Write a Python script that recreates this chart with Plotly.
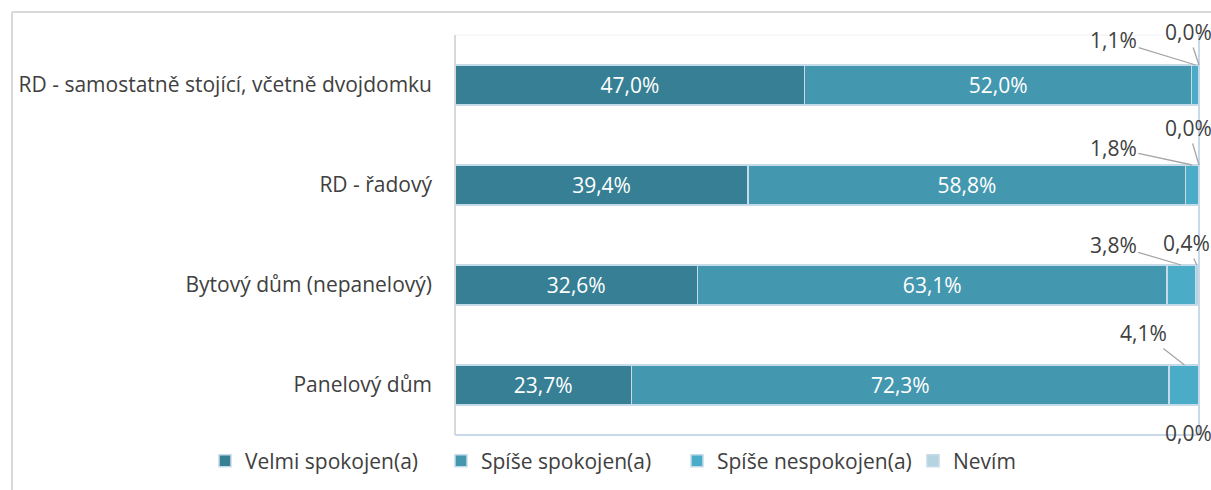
import plotly.graph_objects as go

categories = ["RD - samostatně stojící, včetně dvojdomku", "RD - řadový",
              "Bytový dům (nepanelový)", "Panelový dům"]
series_names = ["Velmi spokojen(a)", "Spíše spokojen(a)", "Spíše nespokojen(a)", "Nevím"]
velmi = [47.0, 39.4, 32.6, 23.7]
spise_spok = [52.0, 58.8, 63.1, 72.3]
spise_nespok = [1.1, 1.8, 3.8, 4.1]
nevim = [0.0, 0.0, 0.4, 0.0]

values = [velmi, spise_spok, spise_nespok, nevim]
colors = ["#377f94", "#4398b0", "#4aacc6", "#b5d4e0"]
FONT = "Open Sans"
TXT = "#404040"
FS = 21

def fmt(v):
    return f"{v:.1f}".replace(".", ",") + "%"

fig = go.Figure()
for i, (name, vals, col) in enumerate(zip(series_names, values, colors)):
    inside = i < 2
    fig.add_trace(go.Bar(
        y=categories, x=vals, name=name, orientation="h", width=0.4,
        marker=dict(color=col, line=dict(color="#c6dbe9", width=1.5)),
        text=[fmt(v) for v in vals] if inside else None,
        textposition="inside" if inside else "none",
        insidetextanchor="middle",
        textfont=dict(color="white", size=FS, family=FONT),
        hoverinfo="skip",
    ))

# outside labels with leader lines (pixel offsets of label from segment top)
offsets = {
    (2, 0): (-82, -25, True), (3, 0): (-11, -33, True),
    (2, 1): (-79, -17, True), (3, 1): (-11, -37, True),
    (2, 2): (-68, -20, True), (3, 2): (-10, -22, True),
    (2, 3): (-41, -32, True), (3, 3): (-11, 68, False),
}
for (s, r), (ax, ay, line) in offsets.items():
    start = sum(values[k][r] for k in range(s))
    v = values[s][r]
    fig.add_annotation(
        x=min(start + v / 2, 100), y=r - 0.2, xref="x", yref="y",
        text=fmt(v), showarrow=True, arrowhead=0, arrowwidth=1.3,
        arrowcolor="#a6a6a6" if line else "rgba(0,0,0,0)",
        ax=ax, ay=ay, font=dict(size=FS, color=TXT, family=FONT),
        borderpad=1,
    )

# plot frame lines
px0, px1 = 455, 1199
def fx(px):
    return (px - px0) / (px1 - px0)
def fy(py):
    return (435 - py) / 400

shapes = [
    dict(type="line", xref="paper", yref="paper", x0=fx(12), x1=fx(1211), y0=fy(12), y1=fy(12),
         line=dict(color="#d9d9d9", width=2)),
    dict(type="line", xref="paper", yref="paper", x0=fx(12), x1=fx(12), y0=fy(12), y1=fy(490),
         line=dict(color="#d9d9d9", width=2)),
    dict(type="line", xref="paper", yref="paper", x0=0, x1=1, y0=1, y1=1,
         line=dict(color="#f2f2f8", width=1)),
    dict(type="line", xref="paper", yref="paper", x0=0, x1=1, y0=0, y1=0,
         line=dict(color="#c9d9ea", width=2)),
    dict(type="line", xref="paper", yref="paper", x0=1, x1=1, y0=0, y1=1,
         line=dict(color="#c9d9ea", width=2)),
    dict(type="line", xref="paper", yref="paper", x0=0, x1=0, y0=0, y1=1,
         line=dict(color="#d9d9d9", width=2)),
]

fig.update_layout(
    barmode="stack",
    width=1211, height=490,
    margin=dict(l=455, r=12, t=35, b=55, autoexpand=False),
    paper_bgcolor="white", plot_bgcolor="white",
    font=dict(family=FONT, size=FS, color=TXT),
    showlegend=True,
    legend=dict(orientation="h", xref="paper", yref="paper",
                x=fx(205), y=fy(461), xanchor="left", yanchor="middle",
                font=dict(size=FS, color=TXT, family=FONT), traceorder="normal",
                itemwidth=30, entrywidth=191, entrywidthmode="pixels"),
    xaxis=dict(range=[0, 100], showgrid=False, showticklabels=False, zeroline=False,
               showline=False, fixedrange=True),
    yaxis=dict(autorange="reversed", showgrid=False, showline=False, zeroline=False,
               ticks="", ticklabelstandoff=22,
               tickfont=dict(size=FS, color=TXT, family=FONT)),
    shapes=shapes,
)

fig.write_html("out.html", config={"displayModeBar": False})
with open("out.html", encoding="utf-8") as f:
    html = f.read()
html = html.replace("<head>", "<head><style>html,body{margin:0;padding:0;overflow:hidden;}</style>", 1)
with open("out.html", "w", encoding="utf-8") as f:
    f.write(html)
